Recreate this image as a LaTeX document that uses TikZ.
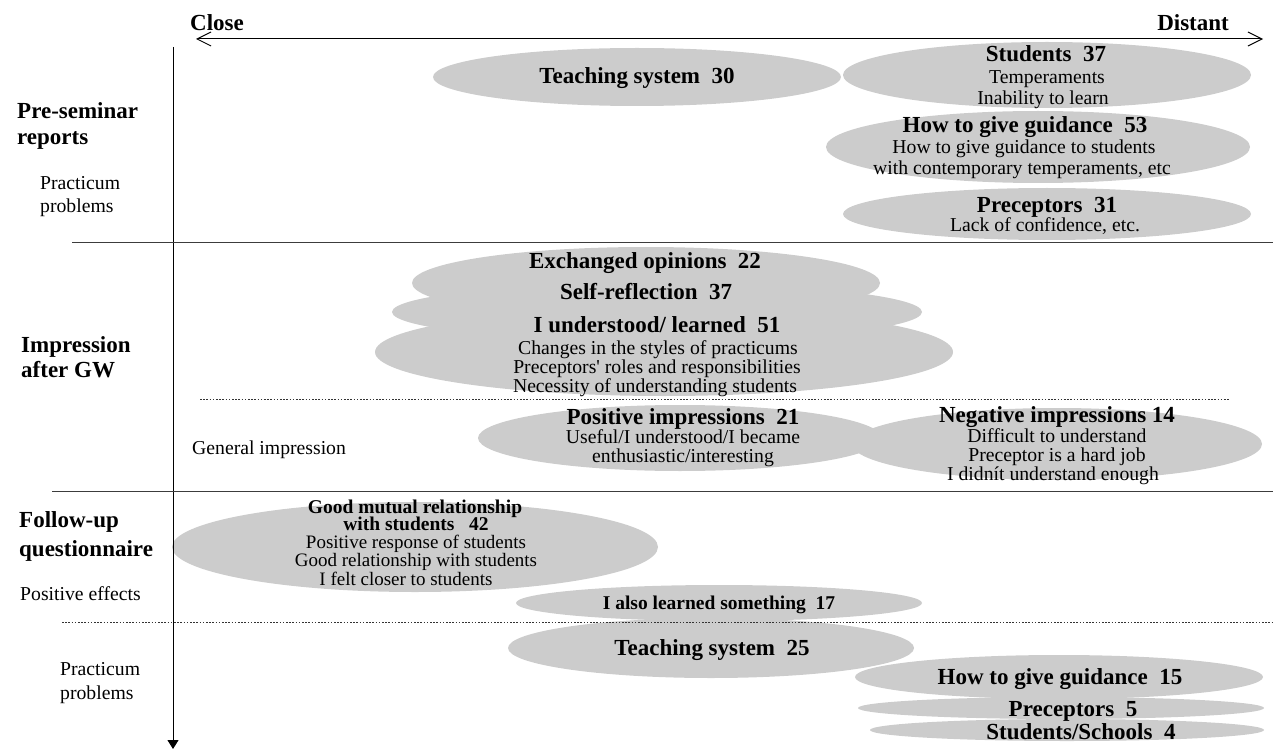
\documentclass[tikz,border=0pt]{standalone}
\usepackage{fontspec}
\setmainfont{Liberation Serif}
\usetikzlibrary{arrows.meta,shapes.geometric}
\definecolor{ellgray}{RGB}{204,204,204}
\definecolor{sepgray}{RGB}{60,60,60}
\tikzset{
  hd/.style={font=\fontsize{23}{23}\selectfont\bfseries, anchor=base, inner sep=0pt},
  hs/.style={font=\fontsize{19.5}{20}\selectfont\bfseries, anchor=base, inner sep=0pt},
  tx/.style={font=\fontsize{19.7}{20}\selectfont, anchor=base, inner sep=0pt},
  txs/.style={font=\fontsize{19}{19}\selectfont, anchor=base, inner sep=0pt},
  lab/.style={hd, anchor=base west},
  sublab/.style={tx, anchor=base west},
  blob/.style={ellipse, fill=ellgray, draw=none, inner sep=0pt},
  sepline/.style={draw=sepgray, line width=1.2pt},
  dotline/.style={draw=black!80, line width=0.8pt, dash pattern=on 1.6pt off 1.6pt},
  axisline/.style={draw=black, line width=1pt}
}
\begin{document}
\begin{tikzpicture}[x=1pt,y=-1pt]
\useasboundingbox (0,0) rectangle (1273,751);

% ---------- ellipses ----------
\node[blob, minimum width=408pt, minimum height=58pt] (e1) at (637,77) {};
\node[blob, minimum width=408pt, minimum height=66pt] (e2) at (1047,75) {};
\node[blob, minimum width=424pt, minimum height=72pt] (e3) at (1038,147) {};
\node[blob, minimum width=408pt, minimum height=52pt] (e4) at (1047,214) {};
\node[blob, minimum width=468pt, minimum height=72pt] (e5) at (646,283) {};
\node[blob, minimum width=530pt, minimum height=58pt] (e6) at (657,312) {};
\node[blob, minimum width=578pt, minimum height=88pt] (e7) at (664,352) {};
\node[blob, minimum width=404pt, minimum height=66pt] (e8) at (680,438) {};
\node[blob, minimum width=410pt, minimum height=72pt] (e9) at (1057,444) {};
\node[blob, minimum width=486pt, minimum height=90pt] (e10) at (415,547) {};
\node[blob, minimum width=406pt, minimum height=36pt] (e11) at (719,603) {};
\node[blob, minimum width=406pt, minimum height=60pt] (e12) at (711,648) {};
\node[blob, minimum width=408pt, minimum height=44pt] (e13) at (1059,677) {};
\node[blob, minimum width=406pt, minimum height=22pt] (e14) at (1061,708) {};
\node[blob, minimum width=394pt, minimum height=22pt] (e15) at (1067,730) {};

% ---------- axes ----------
\coordinate (hL) at (196,39);
\coordinate (hR) at (1263,39);
\draw[axisline, {Straight Barb[length=14pt,width=14pt]}-{Straight Barb[length=14pt,width=14pt]}] (hL) -- (hR);
\coordinate (vT) at (173,47);
\coordinate (vB) at (173,749);
\draw[axisline, -{Triangle[length=9pt,width=11pt]}] (vT) -- (vB);

\node[hd, anchor=base west] (close) at (190,31) {Close};
\node[hd, anchor=base east] (distant) at (1229,31) {Distant};

% ---------- separators ----------
\coordinate (s1a) at (72,242.5);  \coordinate (s1b) at (1273,242.5);
\coordinate (s2a) at (52,491.5);  \coordinate (s2b) at (1273,491.5);
\coordinate (d1a) at (200,399.5); \coordinate (d1b) at (1229,399.5);
\coordinate (d2a) at (62,622);    \coordinate (d2b) at (1273,622);
\draw[sepline] (s1a) -- (s1b);
\draw[sepline] (s2a) -- (s2b);
\draw[dotline] (d1a) -- (d1b);
\draw[dotline] (d2a) -- (d2b);

% ---------- left labels ----------
\node[lab] (l1) at (17,119) {Pre-seminar};
\node[lab] (l2) at (17,145) {reports};
\node[sublab] (l3) at (40,190) {Practicum};
\node[sublab] (l4) at (40,213) {problems};
\node[lab] (l5) at (21,352) {Impression};
\node[lab] (l6) at (21,377) {after GW};
\node[sublab] (l7) at (192,454) {General impression};
\node[lab] (l8) at (19,527) {Follow-up};
\node[lab] (l9) at (19,556) {questionnaire};
\node[sublab] (l10) at (20,600) {Positive effects};
\node[sublab] (l11) at (60,675) {Practicum};
\node[sublab] (l12) at (60,699) {problems};

% ---------- texts: pre-seminar ----------
\node[hd] (t1) at (637,84) {Teaching system~ 30};
\node[hd] (t2) at (1046,62) {Students~ 37};
\node[tx] (t2a) at (1047,84) {Temperaments};
\node[tx] (t2b) at (1043,105) {Inability to learn};
\node[hd] (t3) at (1025,133) {How to give guidance~ 53};
\node[tx] (t3a) at (1024,154) {How to give guidance to students};
\node[tx] (t3b) at (1022,175) {with contemporary temperaments, etc};
\node[hd] (t4) at (1047,213) {Preceptors~ 31};
\node[tx] (t4a) at (1045,232) {Lack of confidence, etc.};

% ---------- texts: impression ----------
\node[hd] (t5) at (645,269) {Exchanged opinions~ 22};
\node[hd] (t6) at (646,299) {Self-reflection~ 37};
\node[hd] (t7) at (657,332) {I understood/ learned~ 51};
\node[tx] (t7a) at (658,354) {Changes in the styles of practicums};
\node[tx] (t7b) at (657,373) {Preceptors\textquotesingle{} roles and responsibilities};
\node[tx] (t7c) at (655,392) {Necessity of understanding students};
\node[hd] (t8) at (683,424) {Positive impressions~ 21};
\node[tx] (t8a) at (683,443) {Useful/I understood/I became};
\node[tx] (t8b) at (683,462) {enthusiastic/interesting};
\node[hd] (t9) at (1057,422) {Negative impressions 14};
\node[tx] (t9a) at (1057,442) {Difficult to understand};
\node[tx] (t9b) at (1057,461) {Preceptor is a hard job};
\node[tx] (t9c) at (1053,480) {I didnít understand enough};

% ---------- texts: follow-up ----------
\node[hs] (t10) at (415,513) {Good mutual relationship};
\node[hs] (t10a) at (416,530) {with students~~ 42};
\node[txs] (t10b) at (416,548) {Positive response of students};
\node[txs] (t10c) at (416,566) {Good relationship with students};
\node[txs] (t10d) at (406,585) {I felt closer to students};
\node[hs] (t11) at (719,609) {I also learned something~ 17};
\node[hd] (t12) at (712,655) {Teaching system~ 25};
\node[hd] (t13) at (1060,684) {How to give guidance~ 15};
\node[hd] (t14) at (1073,716) {Preceptors~ 5};
\node[hd] (t15) at (1081,739) {Students/Schools~ 4};
\end{tikzpicture}
\end{document}
